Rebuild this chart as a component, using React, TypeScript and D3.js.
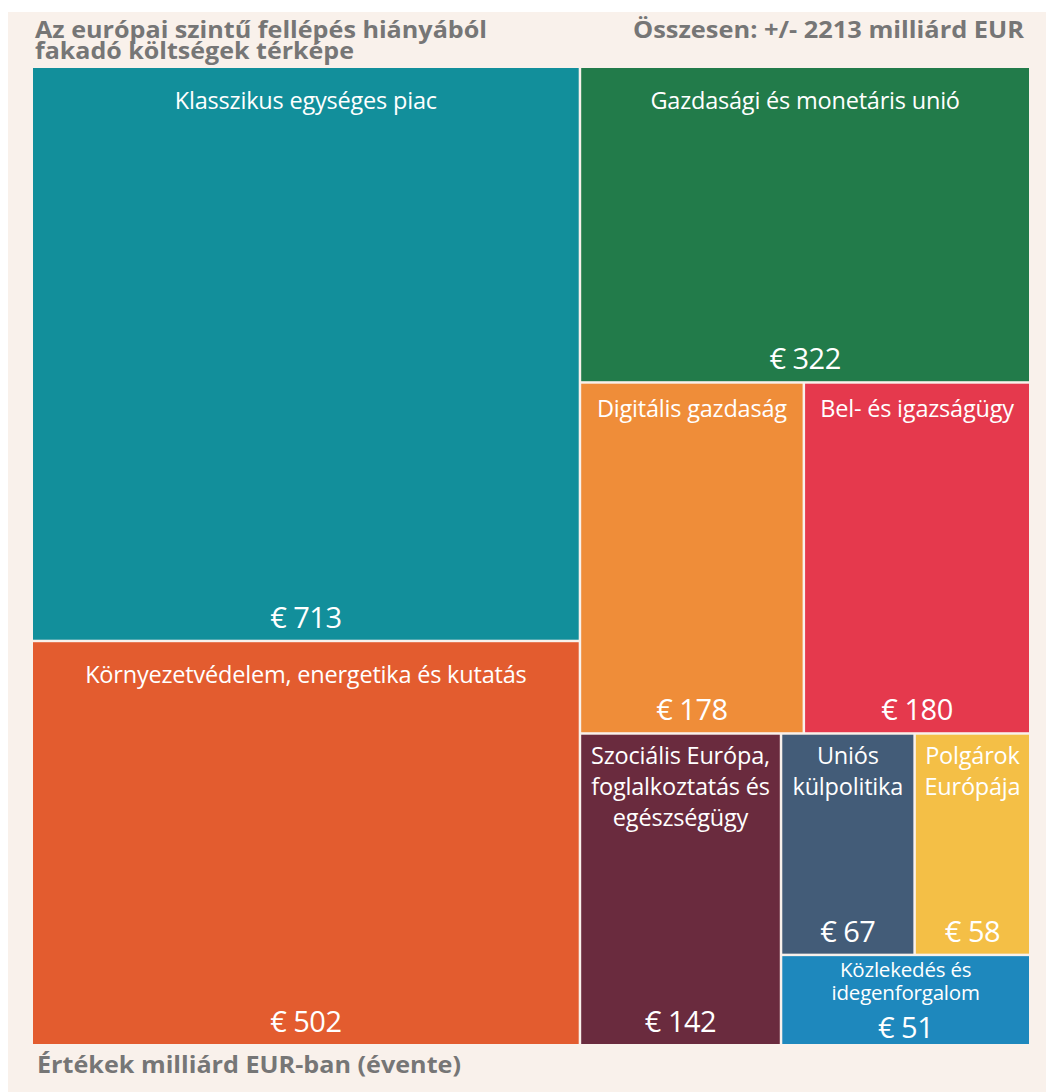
import React from "react";
import * as d3 from "d3";

// ---- data ----
const categoryNames = [
  "Klasszikus egységes piac",
  "Környezetvédelem, energetika és kutatás",
  "Gazdasági és monetáris unió",
  "Digitális gazdaság",
  "Bel- és igazságügy",
  "Szociális Európa, foglalkoztatás és egészségügy",
  "Uniós külpolitika",
  "Polgárok Európája",
  "Közlekedés és idegenforgalom",
];
const categoryLines = [
  ["Klasszikus egységes piac"],
  ["Környezetvédelem, energetika és kutatás"],
  ["Gazdasági és monetáris unió"],
  ["Digitális gazdaság"],
  ["Bel- és igazságügy"],
  ["Szociális Európa,", "foglalkoztatás és", "egészségügy"],
  ["Uniós", "külpolitika"],
  ["Polgárok", "Európája"],
  ["Közlekedés és", "idegenforgalom"],
];
const values = [713, 502, 322, 178, 180, 142, 67, 58, 51];
const colors = [
  "#128f9b",
  "#e35c2f",
  "#227b4a",
  "#ef8d39",
  "#e5394d",
  "#6a2b3e",
  "#435c78",
  "#f4bf46",
  "#1e88bd",
];
const titleLines = ["Az európai szintű fellépés hiányából", "fakadó költségek térképe"];
const totalLabel = "Összesen: +/- 2213 milliárd EUR";
const footnote = "Értékek milliárd EUR-ban (évente)";

// grouping (index references) for the slice/dice layout
type N = { idx?: number; children?: N[] };
const leaf = (i: number): N => ({ idx: i });
const tree: N = {
  children: [
    { children: [leaf(0), leaf(1)] },
    {
      children: [
        leaf(2),
        { children: [leaf(3), leaf(4)] },
        {
          children: [
            leaf(5),
            { children: [{ children: [leaf(6), leaf(7)] }, leaf(8)] },
          ],
        },
      ],
    },
  ],
};

const W = 1046;
const H = 1092;
const FONT = "'Open Sans', 'Noto Sans', sans-serif";
const OX = 33;
const OY = 68;

export default function App() {
  const root = d3
    .hierarchy<N>(tree)
    .sum((d) => (d.idx !== undefined ? values[d.idx] : 0));
  d3.treemap<N>()
    .tile(d3.treemapSliceDice)
    .size([996, 976])
    .paddingInner(2.5)(root as any);
  const leaves = (root as any).leaves() as d3.HierarchyRectangularNode<N>[];

  return (
    <svg
      width={W}
      height={H}
      style={{ position: "absolute", left: 0, top: 0 }}
      fontFamily={FONT}
    >
      <rect x={0} y={0} width={W} height={H} fill="#ffffff" />
      <rect x={8} y={12} width={W - 8} height={H - 12} fill="#f9f1eb" />
      <text fill="#767676" fontWeight={700} fontSize={22.5}>
        <tspan x={35} y={38} textLength={452} lengthAdjust="spacingAndGlyphs">
          {titleLines[0]}
        </tspan>
        <tspan x={35} y={59} textLength={319} lengthAdjust="spacingAndGlyphs">
          {titleLines[1]}
        </tspan>
      </text>
      <text
        x={1024}
        y={38}
        fill="#767676"
        fontWeight={700}
        fontSize={22.5}
        textAnchor="end"
        textLength={391}
        lengthAdjust="spacingAndGlyphs"
      >
        {totalLabel}
      </text>
      <text
        x={37}
        y={1073}
        fill="#767676"
        fontWeight={700}
        fontSize={22.5}
        textLength={424}
        lengthAdjust="spacingAndGlyphs"
      >
        {footnote}
      </text>
      <g transform={`translate(${OX},${OY})`}>
        {leaves.map((n) => {
          const i = n.data.idx as number;
          const w = n.x1 - n.x0;
          const h = n.y1 - n.y0;
          const cx = (n.x0 + n.x1) / 2;
          const lines = categoryLines[i];
          const small = h < 120;
          const multi = lines.length > 1;
          const fs = small ? 20.5 : 23.5;
          const lh = small ? 23 : 31;
          const firstBase = n.y0 + (small ? 21 : multi ? 29 : w > 300 ? 41 : 33);
          return (
            <g key={categoryNames[i]}>
              <rect x={n.x0} y={n.y0} width={w} height={h} fill={colors[i]} />
              <text
                fill="#ffffff"
                fontSize={fs}
                textAnchor="middle"
                letterSpacing={-0.2}
              >
                {lines.map((l, k) => (
                  <tspan key={k} x={cx} y={firstBase + k * lh}>
                    {l}
                  </tspan>
                ))}
              </text>
              <text
                x={cx}
                y={n.y1 - (small ? 6 : 12)}
                fill="#ffffff"
                fontSize={29}
                textAnchor="middle"
                letterSpacing={-0.5}
              >
                {"€ " + values[i]}
              </text>
            </g>
          );
        })}
      </g>
    </svg>
  );
}
